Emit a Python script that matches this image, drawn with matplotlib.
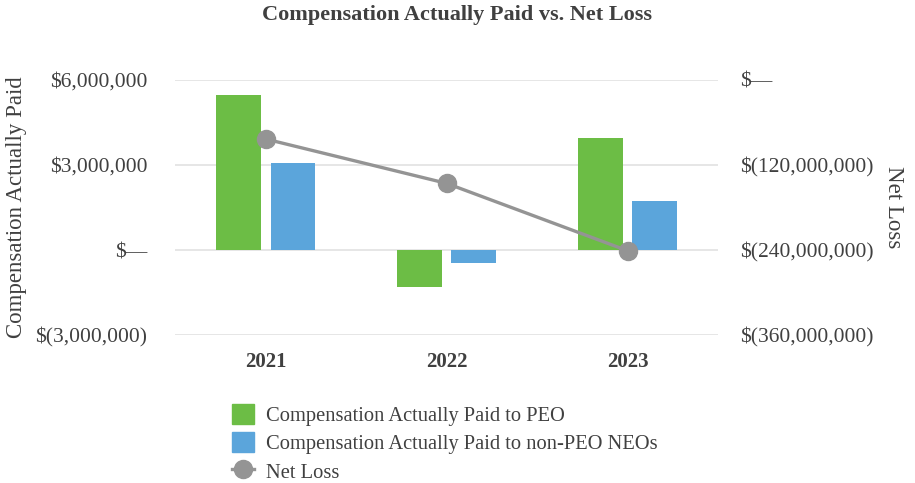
import matplotlib.pyplot as plt
import numpy as np
from matplotlib.lines import Line2D
from matplotlib.patches import Patch

years = ["2021", "2022", "2023"]
cap_peo = [5460000, -1295000, 3940000]
cap_non_peo = [3060000, -470000, 1730000]
net_loss = [-83300000, -145900000, -241000000]

left_ticks = [-3000000, 0, 3000000, 6000000]
right_ticks = [-360000000, -240000000, -120000000, 0]

green = "#6cbd45"
blue = "#5ba5db"
gray = "#949494"
txt = "#404040"

plt.rcParams["font.family"] = ["Liberation Serif", "DejaVu Serif"]


def money(v, pos=None):
    if v == 0:
        return "$\u2014"
    if v < 0:
        return "$({:,.0f})".format(-v)
    return "${:,.0f}".format(v)


fig = plt.figure(figsize=(9.15, 4.83), dpi=100)
ax = fig.add_axes([0.1913, 0.3064, 0.5934, 0.528])
x = np.arange(len(years))
w = 0.245

ax.bar(x - 0.15, cap_peo, w, color=green, zorder=2)
ax.bar(x + 0.15, cap_non_peo, w, color=blue, zorder=2)
ax.set_xlim(-0.5, 2.5)
ax.set_ylim(-3000000, 6000000)
ax.set_yticks(left_ticks)
ax.yaxis.set_major_formatter(plt.FuncFormatter(money))
ax.grid(axis="y", color="#e2e2e2", linewidth=1.2, zorder=0)
ax.set_xticks(x)
ax.set_xticklabels(years, fontsize=15, fontweight="bold", color=txt)
ax.tick_params(axis="x", length=0, pad=12)
ax.tick_params(axis="y", length=0, pad=20, labelsize=15.5, labelcolor=txt)
for s in ax.spines.values():
    s.set_visible(False)
ax.set_ylabel("Compensation Actually Paid", fontsize=16.5, color=txt, labelpad=6)

ax2 = ax.twinx()
ax2.plot(x, net_loss, color=gray, linewidth=2.4, marker="o", markersize=13, zorder=3)
ax2.set_ylim(-360000000, 0)
ax2.set_yticks(right_ticks)
ax2.yaxis.set_major_formatter(plt.FuncFormatter(money))
ax2.tick_params(axis="y", length=0, pad=16, labelsize=15.5, labelcolor=txt)
for s in ax2.spines.values():
    s.set_visible(False)
ax2.set_ylabel("Net Loss", fontsize=16.5, color=txt, rotation=270, labelpad=22)

fig.suptitle("Compensation Actually Paid vs. Net Loss", x=0.499, y=0.99,
             fontsize=16, fontweight="bold", color=txt)

handles = [Patch(color=green), Patch(color=blue),
           Line2D([0], [0], color=gray, linewidth=2.4, marker="o", markersize=13)]
labels = ["Compensation Actually Paid to PEO",
          "Compensation Actually Paid to non-PEO NEOs", "Net Loss"]
leg = fig.legend(handles, labels, loc="upper left", bbox_to_anchor=(0.254, 0.164),
                 frameon=False, fontsize=14.8, handlelength=1.05, handleheight=1.1,
                 labelspacing=0.33, handletextpad=0.6, borderpad=0, borderaxespad=0)
for t in leg.get_texts():
    t.set_color(txt)

fig.savefig("out.png", dpi=100)
